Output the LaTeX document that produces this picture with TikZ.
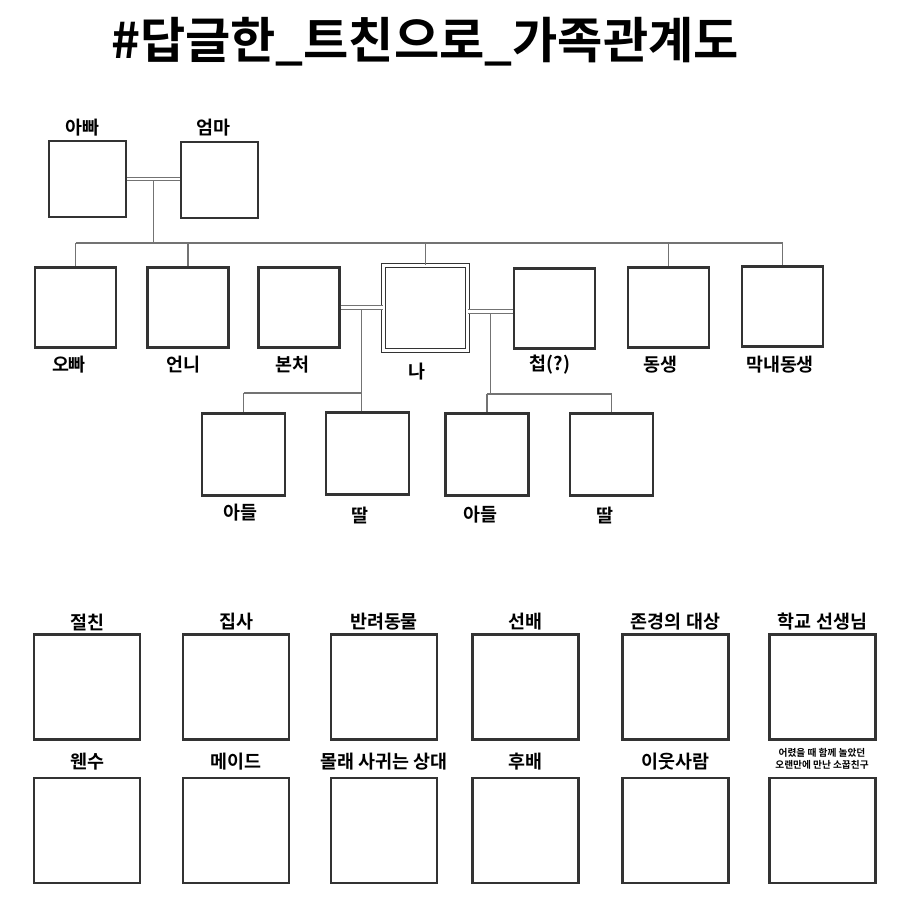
\documentclass[tikz,border=0pt]{standalone}
\usepackage{fontspec}
\setmainfont{Noto Sans CJK KR}[BoldFont={Noto Sans CJK KR Bold}]
\usetikzlibrary{calc}

\begin{document}
\begin{tikzpicture}[x=0.02cm, y=-0.02cm,
    box/.style={draw=black!80, line width=1.2pt, minimum width=1.62cm, minimum height=1.6cm, inner sep=0pt},
    me/.style={box, double, line width=0.9pt, double distance=1.2pt, minimum width=1.68cm, minimum height=1.7cm},
    kid/.style={box, minimum width=1.66cm, minimum height=1.64cm},
    cell/.style={box, minimum width=2.12cm, minimum height=2.1cm},
    lbl/.style={font=\fontsize{10.5}{12}\selectfont\bfseries, inner sep=0pt},
    tiny/.style={font=\fontsize{5.5}{6.8}\selectfont\bfseries, inner sep=0pt, align=center},
    tie/.style={draw=black!55, line width=0.8pt},
    wed/.style={draw=black!55, double, line width=0.6pt, double distance=1.2pt}]
  \useasboundingbox (0,0) rectangle (900,900);
  % title
  \node[font=\fontsize{28}{32}\selectfont\bfseries, inner sep=0pt] (title) at (425,42) {\#답글한\_트친으로\_가족관계도};
  % parents
  \node[box, minimum width=1.54cm, minimum height=1.52cm] (appa) at (87.5,179) {};
  \node[box, minimum width=1.54cm, minimum height=1.52cm] (umma) at (219.5,180) {};
  \node[lbl] (appa-l) at (82,128) {아빠};
  \node[lbl] (umma-l) at (213,128) {엄마};
  % siblings, me and my wives
  \node[box] (oppa) at (75.5,307.5) {};
  \node[box] (unni) at (188,307.5) {};
  \node[box] (bonchu) at (299,307.5) {};
  \node[me] (me) at (425.5,308) {};
  \node[box] (cheop) at (554.5,308.5) {};
  \node[box] (dongsaeng) at (668.5,307.5) {};
  \node[box] (maknae) at (782.5,306.5) {};
  \node[lbl] (oppa-l) at (69,365) {오빠};
  \node[lbl] (unni-l) at (183,365) {언니};
  \node[lbl] (bonchu-l) at (292,365) {본처};
  \node[lbl] (me-l) at (417,372) {나};
  \node[lbl] (cheop-l) at (550,365) {첩(?)};
  \node[lbl] (dongsaeng-l) at (660,365) {동생};
  \node[lbl] (maknae-l) at (780,365) {막내동생};
  % children
  \node[kid] (sonL) at (243.5,454.5) {};
  \node[kid] (dauL) at (367.5,453.5) {};
  \node[kid] (sonR) at (487,454.5) {};
  \node[kid] (dauR) at (611.5,454.5) {};
  \node[lbl] (sonL-l) at (240,513) {아들};
  \node[lbl] (dauL-l) at (360,515) {딸};
  \node[lbl] (sonR-l) at (480,515) {아들};
  \node[lbl] (dauR-l) at (605,515) {딸};
  % parents' marriage and line of descent
  \draw[wed] (appa.east) -- (appa.east -| umma.west);
  \coordinate (pmid) at ($(appa.east)!0.5!(appa.east -| umma.west)$);
  \coordinate (fam) at (0,243);
  \draw[tie] ($(pmid)+(0,2)$) -- (pmid |- fam);
  \draw[tie] (oppa.north |- fam) -- (maknae.north |- fam);
  \foreach \k in {oppa,unni,me,dongsaeng,maknae}
    \draw[tie] (\k.north |- fam) -- (\k.north);
  % me and bonchu
  \draw[wed] (bonchu.east) -- (bonchu.east -| me.west);
  \coordinate (lmid) at ($(bonchu.east)!0.5!(bonchu.east -| me.west)$);
  \coordinate (lkids) at (0,393);
  \draw[tie] ($(lmid)+(0,2)$) -- (lmid |- dauL.north);
  \draw[tie] (sonL.north |- lkids) -- (lmid |- lkids);
  \draw[tie] (sonL.north |- lkids) -- (sonL.north);
  % me and cheop
  \draw[wed] ([yshift=-2pt]me.east) -- ([yshift=-2pt]me.east -| cheop.west);
  \coordinate (rmid) at ($([yshift=-2pt]me.east)!0.5!([yshift=-2pt]me.east -| cheop.west)$);
  \coordinate (rkids) at (0,394);
  \draw[tie] ($(rmid)+(0,2)$) -- (rmid |- rkids);
  \draw[tie] (sonR.north |- rkids) -- (dauR.north |- rkids);
  \foreach \k in {sonR,dauR}
    \draw[tie] (\k.north |- rkids) -- (\k.north);
  % acquaintances
  \foreach \i/\x/\up in {1/87/절친, 2/236/집사, 3/384/반려동물, 4/525.5/선배, 5/675.5/존경의 대상, 6/822.5/학교 선생님} {
    \node[cell] (top\i) at (\x,687) {};
    \node[cell] (bot\i) at (\x,830.5) {};
    \node[lbl] (top\i-l) at (\x,622) {\up};
  }
  \foreach \i/\dn in {1/웬수, 2/메이드, 3/몰래 사귀는 상대, 4/후배, 5/이웃사람}
    \node[lbl] (bot\i-l) at (top\i-l |- 0,762) {\dn};
  \node[tiny] (bot6-l) at (822,759) {어렸을 때 함께 놀았던\\오랜만에 만난 소꿉친구};
\end{tikzpicture}
\end{document}
